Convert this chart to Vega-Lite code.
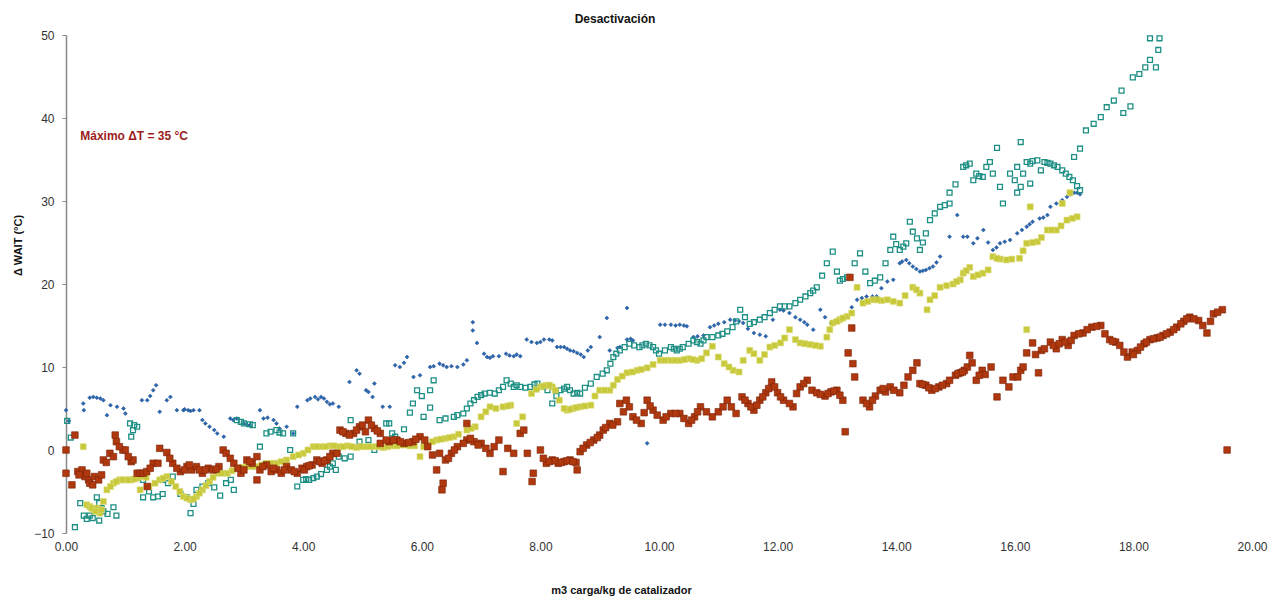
{
  "$schema": "https://vega.github.io/schema/vega-lite/v6.json",
  "width": 1186,
  "height": 498,
  "autosize": "none",
  "padding": {"left": 66, "top": 35, "right": 20, "bottom": 67},
  "background": "white",
  "config": {"view": {"stroke": null}, "font": "Liberation Sans"},
  "title": {"text": "Desactivación", "fontSize": 12, "fontWeight": "bold", "font": "Liberation Sans", "color": "#111", "offset": 3, "dx": -44},
  "datasets": {
    "blue": [{"x":0.0,"y":4.8},{"x":0.05,"y":3.5},{"x":0.29,"y":5.6},{"x":0.3,"y":4.8},{"x":0.46,"y":6.4},{"x":0.52,"y":6.3},{"x":0.58,"y":6.2},{"x":0.69,"y":4.2},{"x":0.75,"y":5.4},{"x":0.86,"y":5.2},{"x":0.97,"y":5},{"x":1.0,"y":4.4},{"x":1.28,"y":6},{"x":1.37,"y":6},{"x":1.47,"y":7.2},{"x":1.52,"y":7.8},{"x":1.58,"y":4.6},{"x":1.7,"y":6},{"x":1.76,"y":6.4},{"x":1.87,"y":4.8},{"x":1.98,"y":4.8},{"x":2.06,"y":4.8},{"x":2.15,"y":4.8},{"x":2.25,"y":4.8},{"x":2.3,"y":3.6},{"x":2.42,"y":2.8},{"x":2.55,"y":2},{"x":2.66,"y":1.6},{"x":2.77,"y":3.8},{"x":2.88,"y":3.8},{"x":3.0,"y":3.2},{"x":3.1,"y":3},{"x":3.27,"y":4.8},{"x":3.33,"y":3.8},{"x":3.5,"y":3.6},{"x":3.6,"y":2.6},{"x":3.72,"y":2.8},{"x":3.83,"y":2},{"x":3.9,"y":5.2},{"x":4.07,"y":6},{"x":4.2,"y":6.4},{"x":4.3,"y":6.4},{"x":4.4,"y":5.8},{"x":4.5,"y":5.6},{"x":4.6,"y":5.2},{"x":4.78,"y":8.2},{"x":4.9,"y":9.6},{"x":4.95,"y":9.2},{"x":5.06,"y":7.2},{"x":5.17,"y":6.4},{"x":5.2,"y":8},{"x":5.34,"y":5.2},{"x":5.46,"y":5.2},{"x":5.63,"y":10},{"x":5.75,"y":11.2},{"x":5.86,"y":8.8},{"x":5.97,"y":9},{"x":6.14,"y":10},{"x":6.3,"y":10.4},{"x":6.42,"y":10},{"x":6.6,"y":10},{"x":6.76,"y":10.8},{"x":6.86,"y":15.4},{"x":6.86,"y":14.4},{"x":6.93,"y":12.9},{"x":7.05,"y":11.6},{"x":7.15,"y":11.1},{"x":7.3,"y":11.3},{"x":7.42,"y":11.6},{"x":7.55,"y":11.3},{"x":7.66,"y":11.3},{"x":7.77,"y":13.3},{"x":7.94,"y":12.9},{"x":8.06,"y":13.3},{"x":8.15,"y":13.3},{"x":8.28,"y":12.4},{"x":8.4,"y":12.4},{"x":8.5,"y":12},{"x":8.62,"y":11.7},{"x":8.73,"y":11.2},{"x":8.85,"y":12.4},{"x":9.0,"y":13.6},{"x":9.12,"y":15.9},{"x":9.17,"y":12},{"x":9.34,"y":12.4},{"x":9.46,"y":17.1},{"x":9.46,"y":13.3},{"x":9.56,"y":13.2},{"x":9.8,"y":0.8},{"x":10.02,"y":15.1},{"x":10.2,"y":15.1},{"x":10.35,"y":15.1},{"x":10.47,"y":14.9},{"x":10.58,"y":13.6},{"x":10.75,"y":13.8},{"x":10.86,"y":14.8},{"x":11.0,"y":15.2},{"x":11.2,"y":15.7},{"x":11.35,"y":15.5},{"x":11.6,"y":14.1},{"x":11.8,"y":13.7},{"x":11.92,"y":15.7},{"x":12.04,"y":16.9},{"x":12.2,"y":16.5},{"x":12.38,"y":15.7},{"x":12.5,"y":15.1},{"x":12.6,"y":14.5},{"x":12.72,"y":16.9},{"x":12.9,"y":15.3},{"x":13.05,"y":15.7},{"x":13.17,"y":16.1},{"x":13.34,"y":18.1},{"x":13.5,"y":18.5},{"x":13.67,"y":18.5},{"x":13.85,"y":20.3},{"x":13.95,"y":20.5},{"x":14.06,"y":22.5},{"x":14.17,"y":22.9},{"x":14.28,"y":22.1},{"x":14.4,"y":21.5},{"x":14.5,"y":21.7},{"x":14.62,"y":22.1},{"x":14.74,"y":23.3},{"x":14.9,"y":25.7},{"x":15.03,"y":28.3},{"x":15.13,"y":25.7},{"x":15.2,"y":25.7},{"x":15.3,"y":24.9},{"x":15.47,"y":26.5},{"x":15.63,"y":24.1},{"x":15.75,"y":24.9},{"x":15.92,"y":25.3},{"x":16.04,"y":26.1},{"x":16.2,"y":26.9},{"x":16.3,"y":27.5},{"x":16.42,"y":27.9},{"x":16.55,"y":28.3},{"x":16.6,"y":29.3},{"x":16.8,"y":30.1},{"x":16.88,"y":30.5},{"x":17.0,"y":31},{"x":17.1,"y":30.8},
      {"x":0.4,"y":6.3},{"x":0.63,"y":6.0},{"x":1.42,"y":6.5},{"x":2.0,"y":4.9},{"x":2.1,"y":4.7},{"x":2.35,"y":3.2},{"x":2.5,"y":2.4},{"x":2.82,"y":3.6},{"x":3.05,"y":3.0},{"x":3.4,"y":3.9},{"x":3.55,"y":3.2},{"x":4.12,"y":6.2},{"x":4.25,"y":6.1},{"x":4.35,"y":6.2},{"x":4.45,"y":5.5},{"x":5.1,"y":7.0},{"x":5.55,"y":10.2},{"x":5.7,"y":10.5},{"x":6.2,"y":10.1},{"x":6.36,"y":10.2},{"x":6.5,"y":10.1},{"x":6.7,"y":10.3},{"x":7.1,"y":11.2},{"x":7.2,"y":11.3},{"x":7.48,"y":11.4},{"x":7.6,"y":11.5},{"x":7.85,"y":13.0},{"x":8.0,"y":13.0},{"x":8.2,"y":13.2},{"x":8.34,"y":12.4},{"x":8.45,"y":12.2},{"x":8.56,"y":11.9},{"x":8.68,"y":11.5},{"x":8.8,"y":12.0},{"x":9.3,"y":12.3},{"x":9.52,"y":13.4},{"x":10.1,"y":15.1},{"x":10.28,"y":15.0},{"x":10.42,"y":15.0},{"x":10.65,"y":13.7},{"x":10.93,"y":15.0},{"x":11.1,"y":15.4},{"x":11.28,"y":15.6},{"x":11.42,"y":15.3},{"x":11.5,"y":14.6},{"x":11.7,"y":13.9},{"x":12.1,"y":16.8},{"x":12.3,"y":16.0},{"x":12.45,"y":15.4},{"x":12.8,"y":16.0},{"x":12.98,"y":15.5},{"x":13.1,"y":15.9},{"x":13.25,"y":17.2},{"x":13.42,"y":18.3},{"x":13.6,"y":18.5},{"x":13.75,"y":19.5},{"x":14.1,"y":22.7},{"x":14.22,"y":22.5},{"x":14.34,"y":21.8},{"x":14.45,"y":21.6},{"x":14.56,"y":21.9},{"x":14.68,"y":22.6},{"x":15.37,"y":25.5},{"x":15.55,"y":25.0},{"x":15.69,"y":24.4},{"x":15.83,"y":25.1},{"x":16.12,"y":26.5},{"x":16.25,"y":27.2},{"x":16.48,"y":28.0},{"x":16.7,"y":29.7},{"x":16.94,"y":30.8},{"x":17.05,"y":31.0}],
    "teal": [{"x":0.02,"y":3.5},{"x":0.08,"y":1.5},{"x":0.15,"y":-9.3},{"x":0.24,"y":-6.4},{"x":0.3,"y":-7.9},{"x":0.4,"y":-7.9},{"x":0.45,"y":-8.2},{"x":0.52,"y":-5.7},{"x":0.56,"y":-6.4},{"x":0.56,"y":-8.5},{"x":0.63,"y":-7.4},{"x":0.8,"y":-6.9},{"x":0.85,"y":-7.9},{"x":1.08,"y":3.2},{"x":1.13,"y":2.4},{"x":1.2,"y":2.8},{"x":1.1,"y":1.6},{"x":1.3,"y":-3.6},{"x":1.3,"y":-5.7},{"x":1.47,"y":-5.7},{"x":1.63,"y":-5.3},{"x":1.63,"y":-3.6},{"x":1.8,"y":-3.2},{"x":1.93,"y":-5.3},{"x":2.04,"y":-5.7},{"x":2.1,"y":-7.6},{"x":2.2,"y":-4.8},{"x":2.3,"y":-4.4},{"x":2.4,"y":-4},{"x":2.6,"y":-5.5},{"x":2.78,"y":-3.6},{"x":2.83,"y":-4.8},{"x":2.88,"y":3.6},{"x":3.0,"y":3.2},{"x":3.15,"y":3},{"x":3.27,"y":0.4},{"x":3.38,"y":2},{"x":3.55,"y":2.4},{"x":3.66,"y":2},{"x":3.78,"y":0},{"x":3.83,"y":2},{"x":3.9,"y":-4.4},{"x":4.0,"y":-3.6},{"x":4.1,"y":-3.6},{"x":4.23,"y":-3.2},{"x":4.4,"y":-2.4},{"x":4.5,"y":-1.6},{"x":4.55,"y":-2.4},{"x":4.6,"y":-0.8},{"x":4.8,"y":-0.8},{"x":4.8,"y":3.6},{"x":5.1,"y":1.2},{"x":5.2,"y":0},{"x":5.45,"y":3.2},{"x":5.55,"y":1.6},{"x":5.4,"y":3.2},{"x":5.5,"y":2},{"x":5.85,"y":5.6},{"x":5.92,"y":7.2},{"x":6.03,"y":4},{"x":6.14,"y":7.2},{"x":6.2,"y":8.4},{"x":6.14,"y":5.1},{"x":6.3,"y":3.6},{"x":6.54,"y":4},{"x":6.7,"y":4.4},{"x":6.82,"y":5.6},{"x":6.94,"y":6.4},{"x":7.06,"y":6.8},{"x":7.23,"y":6.8},{"x":7.37,"y":7.6},{"x":7.43,"y":8.4},{"x":7.55,"y":7.6},{"x":7.66,"y":7.6},{"x":7.83,"y":7.6},{"x":7.95,"y":8},{"x":8.12,"y":7.2},{"x":8.2,"y":5.6},{"x":8.34,"y":7.2},{"x":8.45,"y":7.6},{"x":8.56,"y":6.8},{"x":8.67,"y":6.8},{"x":8.85,"y":8},{"x":8.95,"y":8.8},{"x":9.12,"y":9.6},{"x":9.23,"y":11.2},{"x":9.34,"y":12},{"x":9.5,"y":12.8},{"x":9.67,"y":12.4},{"x":9.78,"y":12.8},{"x":9.9,"y":12.4},{"x":10.0,"y":11.6},{"x":10.2,"y":12.4},{"x":10.3,"y":12},{"x":10.4,"y":12.4},{"x":10.58,"y":13.2},{"x":10.7,"y":12.8},{"x":10.8,"y":13.6},{"x":10.9,"y":13.6},{"x":11.07,"y":14},{"x":11.24,"y":14.8},{"x":11.37,"y":16.9},{"x":11.53,"y":15.2},{"x":11.7,"y":15.7},{"x":11.87,"y":16.5},{"x":12.04,"y":17.3},{"x":12.2,"y":17.3},{"x":12.38,"y":18.1},{"x":12.55,"y":18.9},{"x":12.66,"y":19.6},{"x":12.83,"y":22.5},{"x":12.93,"y":23.9},{"x":13.05,"y":20.4},{"x":13.17,"y":20.8},{"x":13.39,"y":23.7},{"x":13.56,"y":20.1},{"x":13.73,"y":20.8},{"x":13.9,"y":24.1},{"x":13.95,"y":25.7},{"x":14.06,"y":24.1},{"x":14.17,"y":24.9},{"x":14.28,"y":26.3},{"x":14.23,"y":27.5},{"x":14.4,"y":24.1},{"x":14.57,"y":27.7},{"x":14.5,"y":26.1},{"x":14.74,"y":29.3},{"x":14.9,"y":29.7},{"x":14.9,"y":31},{"x":15.13,"y":34.1},{"x":15.24,"y":34.5},{"x":15.35,"y":33.3},{"x":15.3,"y":32.5},{"x":15.46,"y":32.9},{"x":15.52,"y":34.1},{"x":15.58,"y":34.7},{"x":15.7,"y":36.4},{"x":15.63,"y":33.3},{"x":15.75,"y":31.7},{"x":15.8,"y":29.7},{"x":15.92,"y":33.3},{"x":16.0,"y":32.5},{"x":16.04,"y":34.1},{"x":16.1,"y":37.1},{"x":16.14,"y":33.3},{"x":16.1,"y":31.7},{"x":16.26,"y":34.5},{"x":16.38,"y":34.9},{"x":16.5,"y":34.7},{"x":16.6,"y":34.5},{"x":16.72,"y":34.1},{"x":16.86,"y":33.3},{"x":16.98,"y":32.5},{"x":17.1,"y":31.3},{"x":16.44,"y":33.7},{"x":16.26,"y":32.1},{"x":16.04,"y":31},{"x":17.0,"y":35.3},{"x":17.1,"y":36.3},{"x":17.2,"y":38.5},{"x":17.33,"y":39.3},{"x":17.45,"y":40.1},{"x":17.55,"y":41.3},{"x":17.67,"y":42.1},{"x":17.8,"y":43.3},{"x":17.83,"y":40.6},{"x":17.95,"y":41.4},{"x":17.99,"y":44.9},{"x":18.1,"y":45.3},{"x":18.2,"y":46.1},{"x":18.28,"y":47},{"x":18.28,"y":49.6},{"x":18.44,"y":49.6},{"x":18.38,"y":46.1},{"x":18.42,"y":48.2},
      {"x":0.35,"y":-8.3},{"x":0.6,"y":-7.0},{"x":0.7,"y":-7.7},{"x":1.15,"y":3.0},{"x":1.4,"y":-5.0},{"x":1.55,"y":-5.6},{"x":1.72,"y":-4.0},{"x":2.15,"y":-6.5},{"x":2.5,"y":-4.5},{"x":2.7,"y":-4.0},{"x":2.95,"y":3.4},{"x":3.1,"y":3.1},{"x":3.45,"y":2.2},{"x":3.6,"y":2.1},{"x":4.05,"y":-3.5},{"x":4.17,"y":-3.4},{"x":4.3,"y":-2.9},{"x":4.45,"y":-2.0},{"x":4.7,"y":-1.0},{"x":4.95,"y":1.0},{"x":5.3,"y":0.5},{"x":5.7,"y":2.5},{"x":5.8,"y":4.5},{"x":6.0,"y":6.5},{"x":6.4,"y":3.8},{"x":6.6,"y":4.2},{"x":6.76,"y":5.0},{"x":6.88,"y":6.0},{"x":7.0,"y":6.6},{"x":7.15,"y":6.9},{"x":7.3,"y":7.2},{"x":7.5,"y":8.0},{"x":7.6,"y":7.8},{"x":7.75,"y":7.5},{"x":7.9,"y":7.9},{"x":8.05,"y":7.6},{"x":8.27,"y":6.5},{"x":8.4,"y":7.4},{"x":8.5,"y":7.2},{"x":8.62,"y":6.9},{"x":8.75,"y":7.5},{"x":9.05,"y":9.2},{"x":9.18,"y":10.4},{"x":9.28,"y":11.6},{"x":9.42,"y":12.4},{"x":9.58,"y":12.6},{"x":9.72,"y":12.6},{"x":9.84,"y":12.6},{"x":9.95,"y":12.0},{"x":10.1,"y":12.0},{"x":10.25,"y":12.2},{"x":10.35,"y":12.2},{"x":10.5,"y":12.8},{"x":10.64,"y":13.0},{"x":10.75,"y":13.2},{"x":11.0,"y":13.8},{"x":11.15,"y":14.3},{"x":11.3,"y":15.5},{"x":11.45,"y":16.0},{"x":11.6,"y":15.4},{"x":11.78,"y":16.0},{"x":11.95,"y":16.9},{"x":12.12,"y":17.3},{"x":12.3,"y":17.7},{"x":12.47,"y":18.5},{"x":12.6,"y":19.2},{"x":12.75,"y":21.0},{"x":13.0,"y":21.5},{"x":13.1,"y":20.6},{"x":13.3,"y":22.5},{"x":13.48,"y":21.5},{"x":13.64,"y":20.4},{"x":13.82,"y":22.5},{"x":14.0,"y":24.8},{"x":14.12,"y":24.5},{"x":14.35,"y":25.5},{"x":14.45,"y":25.0},{"x":14.65,"y":28.5},{"x":14.82,"y":29.5},{"x":15.0,"y":32.0},{"x":15.18,"y":34.3},{"x":15.4,"y":33.0},{"x":16.2,"y":34.7},{"x":16.3,"y":34.8},{"x":16.55,"y":34.6},{"x":16.66,"y":34.3},{"x":16.8,"y":33.7},{"x":16.92,"y":32.9},{"x":17.05,"y":31.8}],
    "yellow": [{"x":0.29,"y":0.4},{"x":0.35,"y":-6.6},{"x":0.4,"y":-6.8},{"x":0.46,"y":-7.2},{"x":0.52,"y":-7.0},{"x":0.57,"y":-7.6},{"x":0.63,"y":-6.2},{"x":0.69,"y":-4.8},{"x":0.8,"y":-4},{"x":0.9,"y":-3.6},{"x":1.0,"y":-3.6},{"x":1.1,"y":-3.6},{"x":1.2,"y":-3.4},{"x":1.3,"y":-3.2},{"x":1.25,"y":-4.8},{"x":1.4,"y":-4.4},{"x":1.58,"y":-3.6},{"x":1.7,"y":-3.2},{"x":1.85,"y":-4.4},{"x":1.98,"y":-5.6},{"x":2.1,"y":-6},{"x":2.2,"y":-5.6},{"x":2.3,"y":-4.8},{"x":2.42,"y":-3.8},{"x":2.55,"y":-2.8},{"x":2.72,"y":-2.8},{"x":2.88,"y":-2.2},{"x":3.05,"y":-2},{"x":3.22,"y":-2},{"x":3.38,"y":-1.6},{"x":3.55,"y":-1.6},{"x":3.72,"y":-1.2},{"x":3.83,"y":-0.8},{"x":4.0,"y":-0.4},{"x":4.17,"y":0.4},{"x":4.3,"y":0.4},{"x":4.45,"y":0.5},{"x":4.6,"y":0.4},{"x":4.75,"y":0.5},{"x":4.9,"y":0.3},{"x":5.05,"y":0.4},{"x":5.2,"y":0.4},{"x":5.35,"y":0.3},{"x":5.5,"y":0.5},{"x":5.65,"y":0.6},{"x":5.8,"y":0.5},{"x":5.97,"y":-0.8},{"x":6.1,"y":0.6},{"x":6.25,"y":1.2},{"x":6.4,"y":1.4},{"x":6.54,"y":1.6},{"x":6.76,"y":2.4},{"x":6.9,"y":2.8},{"x":7.0,"y":4},{"x":7.15,"y":5.2},{"x":7.25,"y":5.0},{"x":7.37,"y":5.2},{"x":7.5,"y":5.4},{"x":7.6,"y":3.2},{"x":7.7,"y":4},{"x":7.85,"y":6.8},{"x":8.0,"y":7.6},{"x":8.1,"y":7.8},{"x":8.2,"y":7.6},{"x":8.32,"y":6.0},{"x":8.45,"y":4.8},{"x":8.55,"y":5.0},{"x":8.67,"y":5.2},{"x":8.85,"y":5.4},{"x":9.0,"y":7.2},{"x":9.17,"y":7.2},{"x":9.3,"y":8.5},{"x":9.46,"y":9.3},{"x":9.63,"y":9.6},{"x":9.8,"y":9.9},{"x":10.02,"y":10.8},{"x":10.2,"y":10.8},{"x":10.35,"y":10.8},{"x":10.5,"y":11.0},{"x":10.64,"y":10.8},{"x":10.8,"y":11.7},{"x":10.9,"y":12.5},{"x":11.0,"y":11.2},{"x":11.1,"y":10.4},{"x":11.25,"y":9.6},{"x":11.35,"y":9.4},{"x":11.53,"y":12},{"x":11.7,"y":10.8},{"x":11.87,"y":12.4},{"x":12.05,"y":12.9},{"x":12.2,"y":14.5},{"x":12.38,"y":12.9},{"x":12.55,"y":12.7},{"x":12.72,"y":12.5},{"x":12.83,"y":13.6},{"x":12.93,"y":15.3},{"x":13.05,"y":15.7},{"x":13.17,"y":16.1},{"x":13.34,"y":19.6},{"x":13.44,"y":17.7},{"x":13.61,"y":18.1},{"x":13.75,"y":18.0},{"x":13.85,"y":18.1},{"x":14.06,"y":17.7},{"x":14.28,"y":19.6},{"x":14.4,"y":18.9},{"x":14.57,"y":18.1},{"x":14.52,"y":16.9},{"x":14.74,"y":19.6},{"x":14.96,"y":20},{"x":15.08,"y":20.5},{"x":15.13,"y":21.3},{"x":15.24,"y":22},{"x":15.3,"y":20.9},{"x":15.46,"y":21.3},{"x":15.55,"y":21.7},{"x":15.63,"y":23.3},{"x":15.75,"y":23.0},{"x":15.86,"y":22.9},{"x":16.08,"y":23.1},{"x":16.2,"y":24.9},{"x":16.38,"y":25.1},{"x":16.55,"y":26.5},{"x":16.7,"y":26.5},{"x":16.88,"y":27.7},{"x":17.05,"y":28.1},{"x":16.93,"y":31},{"x":16.8,"y":29.7},{"x":16.26,"y":29.3},{"x":16.2,"y":14.5},
      {"x":0.43,"y":-7.0},{"x":0.5,"y":-7.4},{"x":0.6,"y":-7.2},{"x":0.75,"y":-4.4},{"x":0.85,"y":-3.8},{"x":0.95,"y":-3.6},{"x":1.05,"y":-3.6},{"x":1.15,"y":-3.5},{"x":1.35,"y":-3.3},{"x":1.5,"y":-4.0},{"x":1.64,"y":-3.4},{"x":1.78,"y":-3.8},{"x":1.92,"y":-5.0},{"x":2.04,"y":-5.8},{"x":2.15,"y":-5.9},{"x":2.25,"y":-5.2},{"x":2.36,"y":-4.3},{"x":2.48,"y":-3.3},{"x":2.63,"y":-2.8},{"x":2.8,"y":-2.5},{"x":2.97,"y":-2.1},{"x":3.14,"y":-2.0},{"x":3.3,"y":-1.8},{"x":3.46,"y":-1.6},{"x":3.63,"y":-1.4},{"x":3.92,"y":-0.6},{"x":4.08,"y":0.0},{"x":4.23,"y":0.4},{"x":4.38,"y":0.4},{"x":4.52,"y":0.5},{"x":4.67,"y":0.4},{"x":4.82,"y":0.4},{"x":4.97,"y":0.4},{"x":5.12,"y":0.4},{"x":5.27,"y":0.4},{"x":5.42,"y":0.4},{"x":5.58,"y":0.5},{"x":5.72,"y":0.6},{"x":5.88,"y":0.5},{"x":6.03,"y":0.4},{"x":6.18,"y":1.0},{"x":6.32,"y":1.3},{"x":6.47,"y":1.5},{"x":6.62,"y":1.9},{"x":6.83,"y":2.6},{"x":7.08,"y":4.6},{"x":7.45,"y":5.3},{"x":7.93,"y":7.3},{"x":8.05,"y":7.7},{"x":8.15,"y":7.8},{"x":8.25,"y":7.2},{"x":8.4,"y":5.0},{"x":8.5,"y":4.9},{"x":8.6,"y":5.1},{"x":8.75,"y":5.3},{"x":8.92,"y":6.5},{"x":9.08,"y":7.2},{"x":9.23,"y":7.8},{"x":9.38,"y":8.9},{"x":9.55,"y":9.4},{"x":9.7,"y":9.7},{"x":9.9,"y":10.3},{"x":10.1,"y":10.8},{"x":10.27,"y":10.8},{"x":10.43,"y":10.9},{"x":10.57,"y":10.9},{"x":10.72,"y":11.0},{"x":11.18,"y":10.0},{"x":11.42,"y":10.8},{"x":11.6,"y":11.6},{"x":11.78,"y":11.5},{"x":11.95,"y":12.6},{"x":12.12,"y":13.5},{"x":12.3,"y":13.3},{"x":12.46,"y":12.8},{"x":12.64,"y":12.6},{"x":12.88,"y":14.5},{"x":13.0,"y":15.5},{"x":13.1,"y":15.9},{"x":13.25,"y":16.5},{"x":13.52,"y":17.9},{"x":13.68,"y":18.1},{"x":13.95,"y":17.9},{"x":14.15,"y":18.6},{"x":14.34,"y":19.3},{"x":14.65,"y":18.6},{"x":14.85,"y":19.8},{"x":15.02,"y":20.3},{"x":15.18,"y":21.6},{"x":15.38,"y":21.1},{"x":15.7,"y":23.1},{"x":15.95,"y":23.0},{"x":16.14,"y":24.0},{"x":16.3,"y":25.0},{"x":16.45,"y":25.6},{"x":16.62,"y":26.5},{"x":16.78,"y":27.0},{"x":16.97,"y":27.9}],
    "red": [{"x":0.0,"y":0},{"x":0.0,"y":-2.8},{"x":0.15,"y":1.8},{"x":0.1,"y":-4.2},{"x":0.2,"y":-2.6},{"x":0.27,"y":-2.4},{"x":0.32,"y":-3.2},{"x":0.38,"y":-3.6},{"x":0.4,"y":-4},{"x":0.48,"y":-3.2},{"x":0.55,"y":-3.6},{"x":0.63,"y":-1.2},{"x":0.74,"y":-0.4},{"x":0.8,"y":-0.8},{"x":0.83,"y":1.8},{"x":0.85,"y":1},{"x":0.96,"y":0},{"x":1.0,"y":0},{"x":1.1,"y":-1.4},{"x":1.13,"y":-1.2},{"x":1.2,"y":-2.8},{"x":1.25,"y":-2.8},{"x":1.3,"y":-2.8},{"x":1.36,"y":-2.6},{"x":1.37,"y":-4.4},{"x":1.47,"y":-1.6},{"x":1.55,"y":-1.6},{"x":1.58,"y":0.2},{"x":1.7,"y":-0.3},{"x":1.8,"y":-1.6},{"x":1.93,"y":-2.6},{"x":2.04,"y":-2},{"x":2.12,"y":-2.4},{"x":2.2,"y":-2},{"x":2.3,"y":-2.8},{"x":2.4,"y":-2.2},{"x":2.48,"y":-2.4},{"x":2.58,"y":-2.0},{"x":2.65,"y":0},{"x":2.7,"y":-0.4},{"x":2.77,"y":-1.0},{"x":2.83,"y":-1.6},{"x":2.95,"y":-2.8},{"x":3.05,"y":-1.2},{"x":3.14,"y":-1.6},{"x":3.22,"y":-0.8},{"x":3.27,"y":-2.4},{"x":3.22,"y":-3.6},{"x":3.38,"y":-1.8},{"x":3.46,"y":-2.6},{"x":3.55,"y":-2.4},{"x":3.63,"y":-2.8},{"x":3.72,"y":-2},{"x":3.8,"y":-2.4},{"x":3.9,"y":-2.8},{"x":3.98,"y":-2.2},{"x":4.06,"y":-2},{"x":4.15,"y":-1.8},{"x":4.23,"y":-1.2},{"x":4.32,"y":-1.6},{"x":4.4,"y":-1.2},{"x":4.5,"y":-0.4},{"x":4.57,"y":-0.4},{"x":4.62,"y":2.4},{"x":4.72,"y":2.0},{"x":4.85,"y":2},{"x":4.95,"y":2.8},{"x":5.1,"y":3.6},{"x":5.2,"y":2.6},{"x":5.3,"y":2},{"x":5.3,"y":0.8},{"x":5.45,"y":1.0},{"x":5.58,"y":1.2},{"x":5.7,"y":0.8},{"x":5.85,"y":1.0},{"x":5.97,"y":1.6},{"x":6.1,"y":0.4},{"x":6.25,"y":-2.4},{"x":6.3,"y":-0.4},{"x":6.34,"y":-4.8},{"x":6.36,"y":-4},{"x":6.4,"y":-1.2},{"x":6.5,"y":-0.4},{"x":6.6,"y":0.4},{"x":6.76,"y":1.2},{"x":6.76,"y":3.2},{"x":6.88,"y":1.0},{"x":7.0,"y":0.8},{"x":7.15,"y":-0.4},{"x":7.3,"y":1.2},{"x":7.37,"y":-2.6},{"x":7.45,"y":0.2},{"x":7.55,"y":-0.4},{"x":7.66,"y":2},{"x":7.72,"y":2.4},{"x":7.78,"y":-0.4},{"x":7.86,"y":-3.8},{"x":7.88,"y":-2.8},{"x":8.0,"y":0},{"x":8.1,"y":-1.6},{"x":8.2,"y":-1.2},{"x":8.3,"y":-1.6},{"x":8.4,"y":-1.4},{"x":8.5,"y":-1.2},{"x":8.6,"y":-1.5},{"x":8.62,"y":-2.4},{"x":8.67,"y":-0.2},{"x":8.78,"y":0.6},{"x":8.9,"y":1.2},{"x":9.0,"y":1.8},{"x":9.06,"y":2.4},{"x":9.17,"y":3.2},{"x":9.3,"y":3.4},{"x":9.34,"y":5.6},{"x":9.45,"y":6},{"x":9.56,"y":4},{"x":9.7,"y":3.2},{"x":9.8,"y":6},{"x":9.9,"y":4.8},{"x":10.07,"y":3.6},{"x":10.2,"y":4.4},{"x":10.35,"y":4.4},{"x":10.5,"y":3.2},{"x":10.6,"y":4.0},{"x":10.7,"y":5.2},{"x":10.9,"y":4},{"x":11.0,"y":4.6},{"x":11.15,"y":6},{"x":11.3,"y":4.4},{"x":11.4,"y":6.4},{"x":11.5,"y":5.6},{"x":11.6,"y":4.8},{"x":11.7,"y":6.0},{"x":11.8,"y":6.9},{"x":11.9,"y":8.2},{"x":12.0,"y":6.9},{"x":12.1,"y":6.0},{"x":12.26,"y":5.2},{"x":12.38,"y":7.6},{"x":12.5,"y":8.4},{"x":12.58,"y":7.2},{"x":12.66,"y":6.9},{"x":12.8,"y":6.5},{"x":12.9,"y":7.0},{"x":13.0,"y":7.2},{"x":13.1,"y":6},{"x":13.14,"y":2.2},{"x":13.19,"y":11.7},{"x":13.25,"y":14.7},{"x":13.27,"y":10.4},{"x":13.3,"y":8.8},{"x":13.22,"y":20.8},{"x":13.44,"y":6},{"x":13.55,"y":5.2},{"x":13.65,"y":6.5},{"x":13.73,"y":7.2},{"x":13.82,"y":7.0},{"x":13.9,"y":7.6},{"x":14.06,"y":6.9},{"x":14.2,"y":8.8},{"x":14.35,"y":10.5},{"x":14.4,"y":8},{"x":14.5,"y":7.8},{"x":14.6,"y":7.2},{"x":14.72,"y":7.6},{"x":14.85,"y":8},{"x":14.9,"y":8.4},{"x":15.0,"y":9.0},{"x":15.08,"y":9.3},{"x":15.15,"y":9.6},{"x":15.2,"y":10},{"x":15.24,"y":11.4},{"x":15.35,"y":8.4},{"x":15.45,"y":9.6},{"x":15.5,"y":9.1},{"x":15.6,"y":10},{"x":15.7,"y":6.4},{"x":15.8,"y":8.4},{"x":15.9,"y":7.6},{"x":15.97,"y":8.8},{"x":16.05,"y":8.8},{"x":16.1,"y":9.6},{"x":16.14,"y":10},{"x":16.2,"y":11.7},{"x":16.3,"y":12.9},{"x":16.4,"y":9.3},{"x":16.45,"y":12.0},{"x":16.6,"y":13},{"x":16.7,"y":12.2},{"x":16.8,"y":13.3},{"x":16.9,"y":12.6},{"x":17.0,"y":13.8},{"x":17.15,"y":14.1},{"x":17.3,"y":14.8},{"x":17.45,"y":15},{"x":17.6,"y":13.3},{"x":17.7,"y":13.0},{"x":17.77,"y":12.6},{"x":17.9,"y":11.2},{"x":17.98,"y":11.8},{"x":18.07,"y":12},{"x":18.18,"y":12.8},{"x":18.28,"y":13.3},{"x":18.4,"y":13.5},{"x":18.5,"y":13.8},{"x":18.62,"y":14.2},{"x":18.73,"y":14.8},{"x":18.85,"y":15.5},{"x":18.95,"y":16},{"x":19.1,"y":15.6},{"x":19.24,"y":14.1},{"x":19.35,"y":16.4},{"x":19.5,"y":16.9},{"x":19.58,"y":0},
      {"x":0.22,"y":-3.0},{"x":0.35,"y":-2.8},{"x":0.45,"y":-4.2},{"x":0.6,"y":-3.0},{"x":0.68,"y":-1.5},{"x":0.9,"y":0.4},{"x":1.05,"y":-0.8},{"x":1.42,"y":-2.2},{"x":1.75,"y":-1.0},{"x":1.87,"y":-2.2},{"x":2.0,"y":-2.4},{"x":2.08,"y":-1.8},{"x":2.25,"y":-2.4},{"x":2.35,"y":-2.4},{"x":2.53,"y":-2.3},{"x":2.9,"y":-2.2},{"x":3.0,"y":-2.4},{"x":3.1,"y":-1.4},{"x":3.32,"y":-2.0},{"x":3.5,"y":-2.2},{"x":3.68,"y":-2.4},{"x":3.85,"y":-2.6},{"x":4.02,"y":-2.4},{"x":4.1,"y":-1.9},{"x":4.28,"y":-1.4},{"x":4.36,"y":-1.3},{"x":4.45,"y":-0.8},{"x":4.67,"y":2.2},{"x":4.78,"y":1.8},{"x":4.9,"y":2.4},{"x":5.0,"y":3.0},{"x":5.05,"y":2.2},{"x":5.15,"y":3.0},{"x":5.25,"y":2.3},{"x":5.4,"y":1.2},{"x":5.52,"y":1.2},{"x":5.64,"y":1.0},{"x":5.78,"y":0.9},{"x":5.9,"y":1.3},{"x":6.05,"y":1.2},{"x":6.18,"y":-0.6},{"x":6.45,"y":-1.0},{"x":6.55,"y":0.0},{"x":6.7,"y":0.8},{"x":6.82,"y":1.4},{"x":6.95,"y":0.6},{"x":7.08,"y":0.2},{"x":7.22,"y":0.4},{"x":8.05,"y":-1.0},{"x":8.15,"y":-1.4},{"x":8.25,"y":-1.3},{"x":8.35,"y":-1.5},{"x":8.45,"y":-1.3},{"x":8.55,"y":-1.4},{"x":8.72,"y":0.2},{"x":8.84,"y":0.9},{"x":8.96,"y":1.5},{"x":9.1,"y":2.7},{"x":9.22,"y":3.0},{"x":9.4,"y":4.6},{"x":9.5,"y":5.2},{"x":9.62,"y":3.6},{"x":9.75,"y":4.5},{"x":9.85,"y":5.3},{"x":9.97,"y":4.2},{"x":10.12,"y":4.0},{"x":10.28,"y":4.4},{"x":10.42,"y":3.8},{"x":10.55,"y":3.6},{"x":10.65,"y":4.6},{"x":10.8,"y":4.6},{"x":11.08,"y":5.2},{"x":11.22,"y":5.2},{"x":11.45,"y":6.0},{"x":11.55,"y":5.2},{"x":11.65,"y":5.4},{"x":11.75,"y":6.4},{"x":11.85,"y":7.4},{"x":11.95,"y":7.6},{"x":12.05,"y":6.4},{"x":12.2,"y":5.6},{"x":12.32,"y":6.8},{"x":12.44,"y":8.0},{"x":12.72,"y":6.7},{"x":12.85,"y":6.8},{"x":12.95,"y":7.1},{"x":13.05,"y":6.6},{"x":13.5,"y":5.6},{"x":13.6,"y":6.0},{"x":13.78,"y":7.4},{"x":13.96,"y":7.2},{"x":14.13,"y":7.8},{"x":14.28,"y":9.6},{"x":14.45,"y":7.9},{"x":14.55,"y":7.5},{"x":14.66,"y":7.4},{"x":14.78,"y":7.8},{"x":15.04,"y":9.2},{"x":15.12,"y":9.4},{"x":15.28,"y":10.5},{"x":15.4,"y":9.0},{"x":16.35,"y":11.5},{"x":16.5,"y":12.2},{"x":16.65,"y":12.6},{"x":16.75,"y":12.8},{"x":16.85,"y":13.0},{"x":16.95,"y":13.2},{"x":17.08,"y":14.0},{"x":17.22,"y":14.5},{"x":17.38,"y":14.9},{"x":17.52,"y":14.0},{"x":17.65,"y":13.1},{"x":17.84,"y":11.8},{"x":18.0,"y":11.5},{"x":18.12,"y":12.4},{"x":18.22,"y":13.0},{"x":18.34,"y":13.4},{"x":18.45,"y":13.6},{"x":18.56,"y":14.0},{"x":18.68,"y":14.5},{"x":18.8,"y":15.2},{"x":18.9,"y":15.8},{"x":19.02,"y":15.8},{"x":19.17,"y":15.0},{"x":19.3,"y":15.5},{"x":19.42,"y":16.6}],
    "ticks": [{"x":2},{"x":4},{"x":6},{"x":8},{"x":10},{"x":12},{"x":14},{"x":16},{"x":18},{"x":20}],
    "note": [{"x":0.24,"y":37.8,"t":"Máximo ΔT = 35 °C"}]
  },
  "encoding": {
    "x": {"field": "x", "type": "quantitative",
      "scale": {"domain": [0, 20], "nice": false, "zero": false},
      "axis": {"values": [0,2,4,6,8,10,12,14,16,18,20], "format": ".2f", "domain": false, "ticks": false, "grid": false, "labelFlush": false, "labelFontSize": 12, "labelColor": "#333", "labelPadding": 8, "labelFont": "Liberation Sans",
        "title": "m3 carga/kg de catalizador", "titleFontSize": 11, "titleFontWeight": "bold", "titleColor": "#111", "titleFont": "Liberation Sans", "titleX": 555, "titleY": 57, "titleBaseline": "middle", "titleAnchor": "middle"}},
    "y": {"field": "y", "type": "quantitative",
      "scale": {"domain": [-10, 50], "nice": false, "zero": false},
      "axis": {"values": [-10,0,10,20,30,40,50], "domain": true, "domainColor": "#888", "domainWidth": 1.5, "ticks": true, "tickSize": 4, "tickColor": "#888", "grid": false, "labelFontSize": 12, "labelColor": "#333", "labelPadding": 8, "labelFont": "Liberation Sans",
        "title": "Δ WAIT (°C)", "titleFontSize": 11, "titleFontWeight": "bold", "titleColor": "#111", "titleFont": "Liberation Sans", "titleX": -48, "titleY": 210, "titleAngle": -90, "titleBaseline": "middle", "titleAlign": "center"}}
  },
  "layer": [
    {"data": {"name": "ticks"}, "mark": {"type": "tick", "orient": "vertical", "size": 7, "thickness": 1, "color": "#444"}, "encoding": {"y": {"datum": 0}}},
    {"data": {"values": [{"a": 1}]}, "mark": {"type": "rule", "color": "#333", "strokeWidth": 1.2}, "encoding": {"x": {"datum": 0}, "x2": {"datum": 20}, "y": {"datum": 0}}},
    {"data": {"name": "blue"}, "mark": {"type": "point", "shape": "diamond", "filled": true, "fill": "#2a66b0", "stroke": "#1f4f8f", "strokeWidth": 0.5, "size": 16, "opacity": 1}},
    {"data": {"name": "teal"}, "mark": {"type": "point", "shape": "square", "filled": false, "stroke": "#1d8f84", "strokeWidth": 1.3, "size": 24, "opacity": 1}},
    {"data": {"name": "yellow"}, "mark": {"type": "square", "fill": "#c8c93a", "stroke": "#dcdc78", "strokeWidth": 0.6, "size": 36, "opacity": 1}},
    {"data": {"name": "red"}, "mark": {"type": "square", "fill": "#b0380e", "stroke": "#7a2408", "strokeWidth": 0.6, "size": 44, "opacity": 1}},
    {"data": {"name": "note"}, "mark": {"type": "text", "align": "left", "baseline": "middle", "fontSize": 12, "fontWeight": "bold", "font": "Liberation Sans", "color": "#9b1c20"}, "encoding": {"text": {"field": "t", "type": "nominal"}}}
  ]
}
